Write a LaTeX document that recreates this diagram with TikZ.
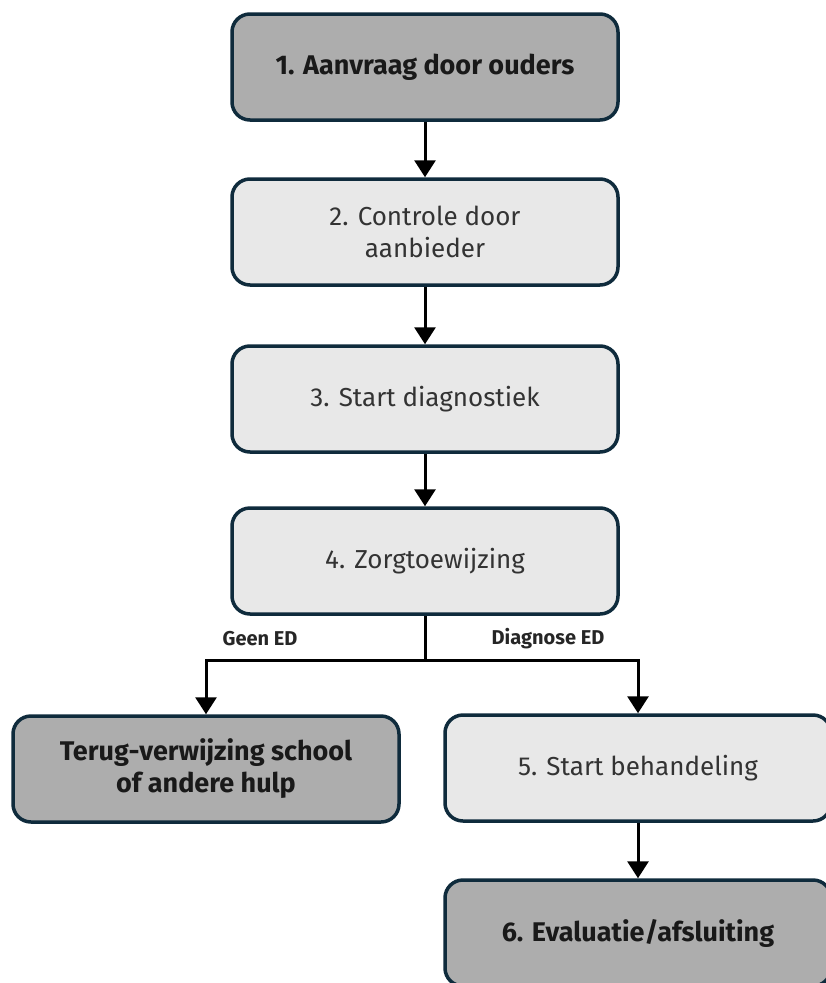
\documentclass[tikz,border=0pt]{standalone}
\usepackage{fontspec}
\setmainfont{Fira Sans}
\usepackage{tikz}
\usetikzlibrary{arrows.meta}

\definecolor{boxline}{HTML}{0F2B3C}
\definecolor{darkfill}{HTML}{ADADAD}
\definecolor{lightfill}{HTML}{E8E8E8}

\tikzset{
  stap/.style={draw=boxline, line width=3.5pt, rounded corners=18pt,
    minimum width=386pt, minimum height=106pt, align=center, inner sep=0pt},
  stapdonker/.style={stap, fill=darkfill, text=black!90,
    font=\fontsize{27}{32}\selectfont\bfseries},
  staplicht/.style={stap, fill=lightfill, text=black!80,
    font=\fontsize{26}{32}\selectfont},
  pijl/.style={black, line width=3pt, -{Triangle[width=21pt,length=17pt]}},
  lijn/.style={black, line width=3pt},
  keuze/.style={font=\fontsize{20}{24}\selectfont\bfseries, text=black!85}
}

\begin{document}
\begin{tikzpicture}[x=1pt,y=-1pt]
\useasboundingbox (0,0) rectangle (826,983);
\clip (0,0) rectangle (826,983);
\fill[white] (0,0) rectangle (826,983);
% hoofdlijn
\node[stapdonker] (aanvraag) at (425,67) {1. Aanvraag door ouders};
\node[staplicht] (controle) at (425,232) {2. Controle door\\aanbieder};
\node[staplicht] (diagnostiek) at (425,399) {3. Start diagnostiek};
\node[staplicht] (zorg) at (425,561) {4. Zorgtoewijzing};
\coordinate (splits) at (425,660);
% twee uitkomsten
\node[stapdonker] (terug) at (206,769) {Terug-verwijzing school\\of andere hulp};
\node[staplicht] (behandeling) at (638,768) {5. Start behandeling};
\node[stapdonker] (evaluatie) at (638,933) {6. Evaluatie/afsluiting};
\node[keuze] (geen) at (260,639) {Geen ED};
\node[keuze] (diagnose) at (548,639) {Diagnose ED};
\draw[pijl] (aanvraag) -- (controle);
\draw[pijl] (controle) -- (diagnostiek);
\draw[pijl] (diagnostiek) -- (zorg);
\draw[lijn] (zorg) -- (splits);
\draw[pijl] (splits) -| (terug);
\draw[pijl] (splits) -| (behandeling);
\draw[pijl] (behandeling) -- (evaluatie);
\end{tikzpicture}
\end{document}
